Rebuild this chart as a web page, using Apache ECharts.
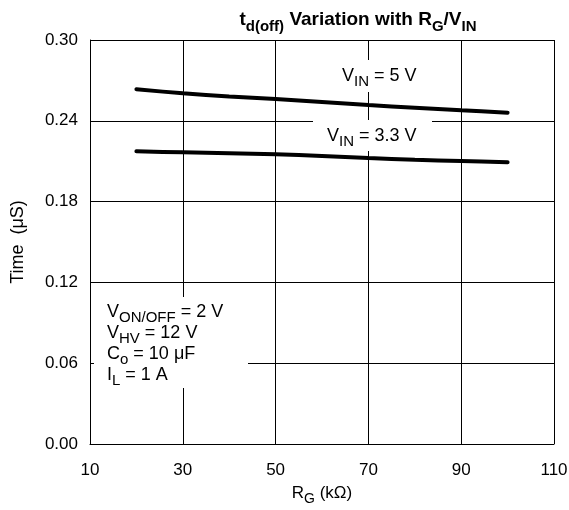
<!DOCTYPE html>
<html><head><meta charset="utf-8">
<script src="https://cdn.jsdelivr.net/npm/echarts@6/dist/echarts.min.js"></script>
<style>html,body{margin:0;padding:0;background:#fff}#c{width:569px;height:510px}</style>
</head><body><div id="c"></div>
<script>
var rg = [20, 30, 40, 50, 60, 70, 80, 90, 100];
var vin5 = [0.2634, 0.2604, 0.2580, 0.2562, 0.2540, 0.2517, 0.2497, 0.2478, 0.2460];
var vin33 = [0.2173, 0.2166, 0.2159, 0.2151, 0.2139, 0.2124, 0.2110, 0.2101, 0.2093];
var xTicks = [10, 30, 50, 70, 90, 110];
var yTicks = [0.00, 0.06, 0.12, 0.18, 0.24, 0.30];

var F = 'Liberation Sans, Arial, Helvetica, sans-serif';
var chart = echarts.init(document.getElementById('c'));
var sub = {fontFamily: F, fontSize: 15, color: '#000', verticalAlign: 'bottom', lineHeight: 20, padding: [0, 0, -4, 0]};
var nrm = {fontFamily: F, fontSize: 18, color: '#000', verticalAlign: 'bottom', lineHeight: 20};
var subA = {fontFamily: F, fontSize: 15, color: '#000', verticalAlign: 'bottom', lineHeight: 21, padding: [0, 0, -4, 0]};
var nrmA = {fontFamily: F, fontSize: 18, color: '#000', verticalAlign: 'bottom', lineHeight: 21};
function pair(a, b) { return a.map(function (x, i) { return [x, b[i]]; }); }

chart.setOption({
  animation: false,
  backgroundColor: '#fff',
  grid: {left: 90, right: 15, top: 40, bottom: 66, containLabel: false, outerBoundsMode: 'none'},
  xAxis: {
    type: 'value', min: 10, max: 110, interval: 20,
    axisLine: {show: true, lineStyle: {color: '#000', width: 1}},
    axisTick: {show: false},
    splitLine: {show: true, lineStyle: {color: '#000', width: 1}},
    axisLabel: {color: '#000', fontFamily: F, fontSize: 17, margin: 18,
      formatter: function (v) { return xTicks.indexOf(v) >= 0 ? String(v) : ''; }},
    name: '{n|R}{s|G}{n| (k\u03A9)}', nameLocation: 'middle', nameGap: 38,
    nameTextStyle: {rich: {n: {fontFamily: F, fontSize: 17, color: '#000', verticalAlign: 'bottom', lineHeight: 20},
                           s: {fontFamily: F, fontSize: 14, color: '#000', verticalAlign: 'bottom', lineHeight: 20, padding: [0, 0, -4, 0]}}}
  },
  yAxis: {
    type: 'value', min: 0, max: 0.30, interval: 0.06,
    axisLine: {show: true, lineStyle: {color: '#000', width: 1}},
    axisTick: {show: false},
    splitLine: {show: true, lineStyle: {color: '#000', width: 1}},
    axisLabel: {color: '#000', fontFamily: F, fontSize: 17, margin: 12,
      formatter: function (v) { return v.toFixed(2); }},
    name: 'Time  (\u03BCS)', nameLocation: 'middle', nameGap: 63,
    nameTextStyle: {color: '#000', fontFamily: F, fontSize: 18}
  },
  series: [
    {type: 'line', data: pair(rg, vin5), showSymbol: false, smooth: 0.3,
      lineStyle: {color: '#000', width: 4, cap: 'round'}},
    {type: 'line', data: pair(rg, vin33), showSymbol: false, smooth: 0.3,
      lineStyle: {color: '#000', width: 4, cap: 'round'}}
  ],
  graphic: [
    {type: 'text', x: 358, y: 7, z: 100, style: {
      align: 'center',
      text: '{t|t}{s|d(off)}{t| Variation with R}{s|G}{t|/V}{s|IN}',
      rich: {t: {fontFamily: F, fontSize: 19, fontWeight: 'bold', color: '#000', verticalAlign: 'bottom', lineHeight: 22},
             s: {fontFamily: F, fontSize: 15, fontWeight: 'bold', color: '#000', verticalAlign: 'bottom', lineHeight: 22, padding: [0,0,-5,0]}}
    }},
    {type: 'rect', shape: {x: 333, y: 60, width: 95, height: 32}, style: {fill: '#fff'}, z: 99},
    {type: 'text', x: 342, y: 65, z: 100, style: {text: '{n|V}{s|IN}{n| = 5 V}', rich: {n: nrm, s: sub}}},
    {type: 'rect', shape: {x: 313, y: 120, width: 119, height: 31}, style: {fill: '#fff'}, z: 99},
    {type: 'text', x: 327, y: 125, z: 100, style: {text: '{n|V}{s|IN}{n| = 3.3 V}', rich: {n: nrm, s: sub}}},
    {type: 'rect', shape: {x: 94, y: 297, width: 154, height: 91}, style: {fill: '#fff'}, z: 99},
    {type: 'text', x: 107, y: 300, z: 100, style: {
      text: '{n|V}{s|ON/OFF}{n| = 2 V}\n{n|V}{s|HV}{n| = 12 V}\n{n|C}{s|o}{n| = 10 \u03BCF}\n{n|I}{s|L}{n| = 1 A}',
      rich: {n: nrmA, s: subA}}}
  ]
});
</script></body></html>
